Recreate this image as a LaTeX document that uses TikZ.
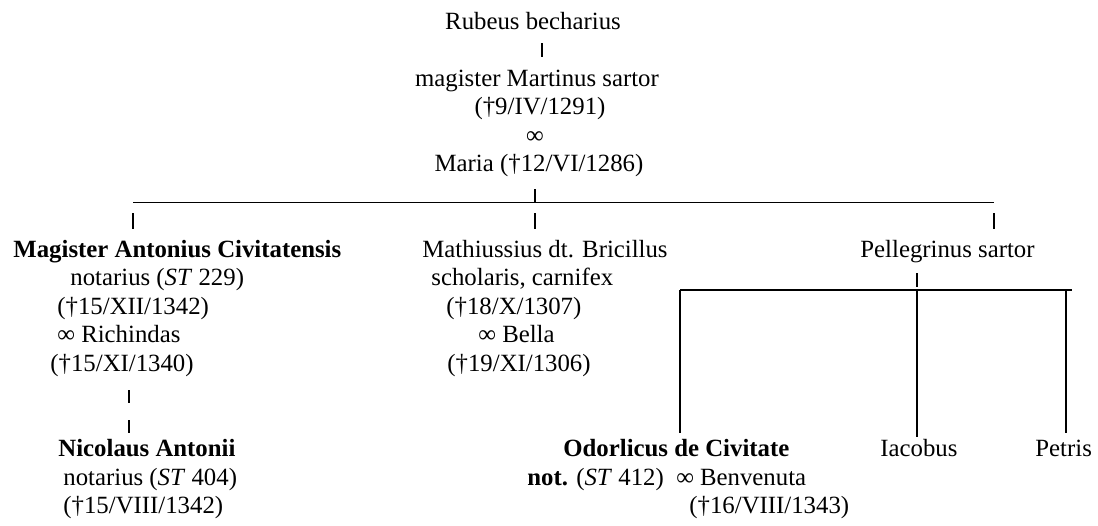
\documentclass[tikz,border=0pt]{standalone}
\usepackage{fontspec}
\setmainfont{Liberation Serif}
\usetikzlibrary{positioning}

\begin{document}
\begin{tikzpicture}[
    x=0.484pt, y=-0.484pt,
    txt/.style={%
      inner sep=0pt,
      anchor=base west,
      font=\fontsize{12}{14}\selectfont,
    },
  ]

\tikzstyle{ctr} = [txt, anchor=base]
\tikzstyle{boldtxt} = [txt, font=\fontsize{12}{14}\selectfont\bfseries]
\tikzstyle{vbar} = [line width=0.9pt]
\tikzstyle{hrule} = [line width=0.6pt]

\useasboundingbox (0,0) rectangle (1098,525);

    % parents
    \node [ctr] (rub) at (533,29) {Rubeus becharius};
    \node [ctr] (mar) at (537,86) {magister Martinus sartor};
    \node [ctr] (mar2) at (540,114.5) {(†9/IV/1291)};
    \node [ctr] (mar3) at (535,143) {∞};
    \node [ctr] (mar4) at (539,171.5) {Maria (†12/VI/1286)};

    % sons
    \node [boldtxt] (ant) at (13,257) {Magister Antonius Civitatensis};
    \node [txt] (ant2) at (70,285.5) {notarius (\textit{ST} 229)};
    \node [txt] (ant3) at (57,314) {(†15/XII/1342)};
    \node [txt] (ant4) at (57,342.5) {∞ Richindas};
    \node [txt] (ant5) at (50,371) {(†15/XI/1340)};

    \node [txt] (mat) at (422,257) {Mathiussius dt. Bricillus};
    \node [txt] (mat2) at (431,285.5) {scholaris, carnifex};
    \node [txt] (mat3) at (446,314) {(†18/X/1307)};
    \node [txt] (mat4) at (478,342.5) {∞ Bella};
    \node [txt] (mat5) at (447,371) {(†19/XI/1306)};

    \node [txt] (pel) at (860,257) {Pellegrinus sartor};

    % grandsons
    \node [boldtxt] (nic) at (58,456.5) {Nicolaus Antonii};
    \node [txt] (nic2) at (63,485) {notarius (\textit{ST} 404)};
    \node [txt] (nic3) at (63,513.5) {(†15/VIII/1342)};

    \node [boldtxt] (odo) at (563,456.5) {Odorlicus de Civitate};
    \node [txt] (odo2) at (527,485) {\textbf{not.} (\textit{ST} 412)\ \ ∞ Benvenuta};
    \node [txt] (odo3) at (689,513.5) {(†16/VIII/1343)};
    \node [txt] (iac) at (880,456.5) {Iacobus};
    \node [txt] (pet) at (1035,456.5) {Petris};

    % links
    \coordinate (rubBar) at (542,43);
    \coordinate (marBar) at (535,189);
    \coordinate (sonL) at (133,202.5);
    \coordinate (sonM) at (535,202.5);
    \coordinate (sonR) at (994,202.5);
    \coordinate (antBar) at (129,390);
    \coordinate (pelBar) at (917,273);
    \coordinate (grL) at (680,290);
    \coordinate (grM) at (917,290);
    \coordinate (grR) at (1066,290);

    \draw [vbar] (rubBar) -- ++(0,14);
    \draw [vbar] (marBar) -- (sonM);
    \draw [hrule] (sonL) -- (sonR);
    \draw [vbar] (sonL) ++(0,10.5) -- ++(0,16);
    \draw [vbar] (sonM) ++(0,10.5) -- ++(0,16);
    \draw [vbar] (sonR) ++(0,10.5) -- ++(0,16);
    \draw [vbar] (antBar) -- ++(0,13);
    \draw [vbar] (antBar) ++(0,30) -- ++(0,13);

    \draw [vbar] (pelBar) -- ++(0,14);
    \draw [hrule] (grL) -- (1072,290);
    \draw [vbar] (grL) -- (grL |- 0,433);
    \draw [vbar] (grM) -- (grM |- 0,437);
    \draw [vbar] (grR) -- (grR |- 0,433);
\end{tikzpicture}
\end{document}
